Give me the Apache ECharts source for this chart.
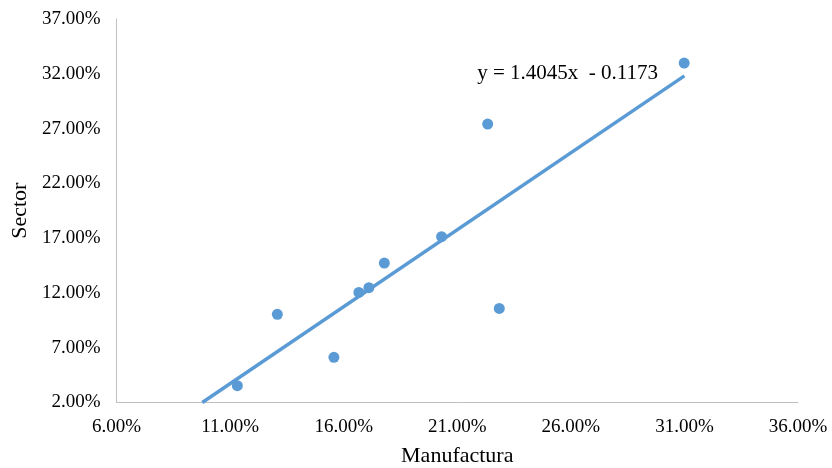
<!DOCTYPE html>
<html>
<head>
<meta charset="utf-8">
<script src="https://cdn.jsdelivr.net/npm/echarts@6/dist/echarts.min.js"></script>
<style>
  html, body { margin: 0; padding: 0; background: #fff; }
  #chart { width: 832px; height: 468px; }
</style>
</head>
<body>
<div id="chart"></div>
<script>
// Manufactura (%) vs Sector (%)
const manufactura = [11.32, 13.08, 15.57, 16.67, 17.11, 17.79, 20.31, 22.85, 22.34, 30.99];
const sector      = [3.53, 10.05, 6.12, 12.05, 12.48, 14.73, 17.13, 10.59, 27.41, 32.98];

// Linear trend line: y = slope * x + intercept (on fractions)
const slope = 1.4045;
const intercept = -0.1173;
const trendStartY = 2;      // trend drawn from where it meets the x axis
const trendEndX = 31.0;     // up to the largest x value

const xTicks = { min: 6, max: 36, interval: 5 };
const yTicks = { min: 2, max: 37, interval: 5 };

const points = manufactura.map((x, i) => [x, sector[i]]);
const trendX0 = ((trendStartY / 100 - intercept) / slope) * 100;
const trendY1 = (slope * trendEndX / 100 + intercept) * 100;
const trend = [[trendX0, trendStartY], [trendEndX, trendY1]];
const equation = 'y = ' + slope.toFixed(4) + 'x  - ' + Math.abs(intercept).toFixed(4);

const blue = '#5b9bd5';
const font = '"Liberation Serif", "Times New Roman", serif';

const chart = echarts.init(document.getElementById('chart'));
chart.setOption({
  animation: false,
  grid: {
    left: 116.5, right: 34, top: 19, bottom: 65.5,
    containLabel: false, outerBoundsMode: 'none'
  },
  graphic: [{
    type: 'text',
    right: 174,
    top: 63,
    style: { text: equation, font: '21px ' + font, fill: '#000' }
  }],
  xAxis: {
    type: 'value',
    min: xTicks.min, max: xTicks.max, interval: xTicks.interval,
    name: 'Manufactura',
    nameLocation: 'middle',
    nameGap: 43,
    nameTextStyle: { fontFamily: font, fontSize: 22, color: '#000' },
    axisLine: { show: true, lineStyle: { color: '#bfbfbf', width: 1 } },
    axisTick: { show: false },
    splitLine: { show: false },
    axisLabel: {
      fontFamily: font, fontSize: 19, color: '#000', margin: 15,
      formatter: v => v.toFixed(2) + '%'
    }
  },
  yAxis: {
    type: 'value',
    min: yTicks.min, max: yTicks.max, interval: yTicks.interval,
    name: 'Sector',
    nameLocation: 'middle',
    nameRotate: 90,
    nameGap: 83,
    nameTextStyle: { fontFamily: font, fontSize: 22, color: '#000' },
    axisLine: { show: true, lineStyle: { color: '#bfbfbf', width: 1 } },
    axisTick: { show: false },
    splitLine: { show: false },
    axisLabel: {
      fontFamily: font, fontSize: 19, color: '#000', margin: 16,
      formatter: v => v.toFixed(2) + '%'
    }
  },
  series: [
    {
      type: 'line',
      data: trend,
      symbol: 'none',
      lineStyle: { color: blue, width: 3.5 },
      z: 2
    },
    {
      type: 'scatter',
      data: points,
      symbol: 'circle',
      symbolSize: 11,
      itemStyle: { color: blue, opacity: 1 },
      z: 3
    }
  ]
});
</script>
</body>
</html>
